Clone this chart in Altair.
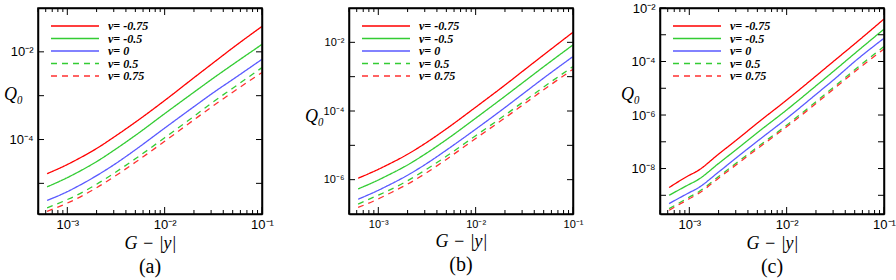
import altair as alt
import pandas as pd

# ---------------- data ----------------
X = [6.2e-4, 1.0e-3, 1.2e-3, 2.0e-3, 3.16e-3, 5.0e-3, 1.0e-2, 2.0e-2, 3.16e-2, 5.0e-2, 1.0e-1]

SERIES = ["ν= -0.75", "ν= -0.5", "ν= 0", "ν= 0.5", "ν= 0.75"]
COLORS = ["#ff0000", "#33cc33", "#5a5aff", "#33cc33", "#ff3030"]
DASHES = [[1, 0], [1, 0], [1, 0], [6, 5], [6, 5]]

# panel (a)
A_M075 = [1.66e-5, 2.69e-5, 3.31e-5, 6.24e-5, 1.22e-4, 2.48e-4, 7.76e-4, 2.57e-3, 5.62e-3, 1.23e-2, 3.80e-2]
A_M050 = [8.32e-6, 1.35e-5, 1.66e-5, 3.13e-5, 6.10e-5, 1.24e-4, 3.89e-4, 1.20e-3, 2.51e-3, 5.13e-3, 1.48e-2]
A_P000 = [4.07e-6, 6.46e-6, 7.94e-6, 1.50e-5, 2.85e-5, 5.82e-5, 1.82e-4, 5.62e-4, 1.17e-3, 2.34e-3, 6.76e-3]
A_P050 = [2.75e-6, 4.27e-6, 5.13e-6, 9.55e-6, 1.82e-5, 3.63e-5, 1.10e-4, 3.39e-4, 7.24e-4, 1.48e-3, 4.37e-3]
A_P075 = [2.29e-6, 3.55e-6, 4.27e-6, 7.94e-6, 1.51e-5, 3.02e-5, 9.12e-5, 2.82e-4, 5.89e-4, 1.20e-3, 3.39e-3]

# panel (b)
B_M075 = [1.10e-6, 2.00e-6, 2.57e-6, 5.50e-6, 1.23e-5, 3.02e-5, 1.29e-4, 5.69e-4, 1.57e-3, 4.32e-3, 1.97e-2]
B_M050 = [5.37e-7, 9.77e-7, 1.26e-6, 2.69e-6, 6.03e-6, 1.46e-5, 6.17e-5, 2.69e-4, 7.24e-4, 1.95e-3, 8.41e-3]
B_P000 = [2.69e-7, 4.90e-7, 6.31e-7, 1.35e-6, 2.99e-6, 7.24e-6, 2.95e-5, 1.26e-4, 3.39e-4, 9.12e-4, 3.85e-3]
B_P050 = [1.95e-7, 3.55e-7, 4.47e-7, 9.33e-7, 2.04e-6, 4.79e-6, 1.91e-5, 7.59e-5, 1.95e-4, 5.01e-4, 1.97e-3]
B_P075 = [1.55e-7, 2.75e-7, 3.55e-7, 7.41e-7, 1.62e-6, 3.89e-6, 1.58e-5, 6.31e-5, 1.62e-4, 4.17e-4, 1.64e-3]

# panel (c)
C_M075 = [1.95e-9, 5.62e-9, 7.94e-9, 3.47e-8, 1.29e-7, 5.01e-7, 3.63e-6, 2.88e-5, 1.15e-4, 4.57e-4, 3.89e-3]
C_M050 = [1.00e-9, 2.57e-9, 3.63e-9, 1.55e-8, 5.75e-8, 2.19e-7, 1.55e-6, 1.23e-5, 4.90e-5, 2.00e-4, 1.62e-3]
C_P000 = [4.90e-10, 1.26e-9, 1.78e-9, 7.41e-9, 2.82e-8, 1.05e-7, 7.41e-7, 5.89e-6, 2.34e-5, 1.00e-4, 7.41e-4]
C_P050 = [3.16e-10, 8.51e-10, 1.23e-9, 5.01e-9, 1.78e-8, 6.31e-8, 4.17e-7, 3.16e-6, 1.23e-5, 4.90e-5, 3.63e-4]
C_P075 = [2.75e-10, 7.41e-10, 1.07e-9, 4.37e-9, 1.55e-8, 5.50e-8, 3.63e-7, 2.69e-6, 1.05e-5, 4.17e-5, 2.95e-4]

# caption, series, y-domain, y decade ticks, Q0 title x / y offsets, tick label size
PANELS = [
    ("(a)", [A_M075, A_M050, A_P000, A_P050, A_P075], [2e-6, 1e-1],
     [1e-5, 1e-4, 1e-3, 1e-2], -25, 86, 13),
    ("(b)", [B_M075, B_M050, B_P000, B_P050, B_P075], [1e-7, 1e-1],
     [1e-6, 1e-5, 1e-4, 1e-3, 1e-2], -35, 108, 11),
    ("(c)", [C_M075, C_M050, C_P000, C_P050, C_P075], [2e-10, 1e-2],
     [1e-9, 1e-8, 1e-7, 1e-6, 1e-5, 1e-4, 1e-3, 1e-2], -30, 86, 13),
]

X_DOMAIN = [5e-4, 1e-1]
X_MAJOR = [1e-3, 1e-2, 1e-1]
X_MINOR = [5e-4, 6e-4, 7e-4, 8e-4, 9e-4,
           2e-3, 3e-3, 4e-3, 5e-3, 6e-3, 7e-3, 8e-3, 9e-3,
           2e-2, 3e-2, 4e-2, 5e-2, 6e-2, 7e-2, 8e-2, 9e-2]

SUP = "['⁰','⁻¹','⁻²','⁻³','⁻⁴','⁻⁵','⁻⁶','⁻⁷','⁻⁸','⁻⁹','⁻¹⁰']"
EXP = "round(log(datum.value)/LN10)"
X_LABEL = f"'10' + {SUP}[-{EXP}]"
Y_LABEL = f"({EXP} % 2 == 0) ? '10' + {SUP}[-{EXP}] : ''"

W, H = 224, 206
TICK_FONT = "Liberation Sans"
SERIF = "Liberation Serif"
INK = "#000000"
LEG_TOP, LEG_STEP = 18, 12.5


def panel(caption, series_vals, ydom, yticks, qx, qy, lsize):
    rows = []
    for name, vals in zip(SERIES, series_vals):
        for xv, qv in zip(X, vals):
            rows.append({"x": xv, "q": qv, "series": name})
    df = pd.DataFrame(rows)
    xmaj = pd.DataFrame({"x": X_MAJOR})
    xmin = pd.DataFrame({"x": X_MINOR})
    ymaj = pd.DataFrame({"q": yticks})
    one = pd.DataFrame({"k": [0]})

    xs = alt.Scale(type="log", domain=X_DOMAIN, nice=False)
    ys = alt.Scale(type="log", domain=ydom, nice=False)
    cs = alt.Scale(domain=SERIES, range=COLORS)
    ds = alt.Scale(domain=SERIES, range=DASHES)

    x_axis = alt.Axis(values=X_MAJOR, labelExpr=X_LABEL, grid=False, ticks=False,
                      domainColor=INK, domainWidth=1.5,
                      labelFont=TICK_FONT, labelFontSize=lsize, labelColor=INK,
                      labelPadding=4, labelFlush=False, labelOverlap=False,
                      title="G − |y|", titleFont=SERIF, titleFontStyle="italic",
                      titleFontWeight="normal", titleFontSize=18, titleColor=INK,
                      titlePadding=3)
    y_axis = alt.Axis(values=yticks, labelExpr=Y_LABEL, grid=False, ticks=False,
                      domainColor=INK, domainWidth=1.5,
                      labelFont=TICK_FONT, labelFontSize=lsize, labelColor=INK,
                      labelPadding=5, labelFlush=False, labelOverlap=False,
                      title="Q₀", titleFont=SERIF, titleFontStyle="italic",
                      titleFontWeight="normal", titleFontSize=18, titleColor=INK,
                      titleAngle=0, titleAlign="center", titleBaseline="middle",
                      titleX=qx, titleY=qy)

    lines = alt.Chart(df).mark_line(strokeWidth=1.3, clip=True, interpolate="monotone").encode(
        x=alt.X("x:Q", scale=xs, axis=x_axis),
        y=alt.Y("q:Q", scale=ys, axis=y_axis),
        color=alt.Color("series:N", scale=cs, legend=None),
        strokeDash=alt.StrokeDash("series:N", scale=ds, legend=None),
        detail="series:N",
    )

    # invisible copy carrying the top / right axis lines (box)
    mirror = alt.Chart(df).mark_line(strokeOpacity=0).encode(
        x=alt.X("x:Q", scale=xs,
                axis=alt.Axis(orient="top", values=X_MAJOR, labels=False, ticks=False,
                              grid=False, title=None, domainColor=INK, domainWidth=1.5)),
        y=alt.Y("q:Q", scale=ys,
                axis=alt.Axis(orient="right", values=yticks, labels=False, ticks=False,
                              grid=False, title=None, domainColor=INK, domainWidth=1.5)),
        detail="series:N",
    )

    X_NA = alt.X("x:Q", scale=xs, axis=None)
    Y_NA = alt.Y("q:Q", scale=ys, axis=None)

    # frame around the plot area
    frame = alt.Chart(one).mark_rect(filled=False, stroke=INK, strokeWidth=1.5).encode(
        x=alt.value(0), x2=alt.value(W), y=alt.value(0), y2=alt.value(H))

    # inward ticks on all four sides
    ts = dict(color=INK, strokeWidth=1)
    bx_maj = alt.Chart(xmaj).mark_rule(**ts).encode(x=X_NA, y=alt.value(H), y2=alt.value(H - 7))
    tx_maj = alt.Chart(xmaj).mark_rule(**ts).encode(x=X_NA, y=alt.value(0), y2=alt.value(7))
    bx_min = alt.Chart(xmin).mark_rule(**ts).encode(x=X_NA, y=alt.value(H), y2=alt.value(H - 4))
    tx_min = alt.Chart(xmin).mark_rule(**ts).encode(x=X_NA, y=alt.value(0), y2=alt.value(4))
    ly = alt.Chart(ymaj).mark_rule(**ts).encode(y=Y_NA, x=alt.value(0), x2=alt.value(6))
    ry = alt.Chart(ymaj).mark_rule(**ts).encode(y=Y_NA, x=alt.value(W), x2=alt.value(W - 6))

    # legend drawn inside the plot (top left)
    legend_layers = []
    for i, (name, col, dash) in enumerate(zip(SERIES, COLORS, DASHES)):
        yy = LEG_TOP + LEG_STEP * i
        legend_layers.append(
            alt.Chart(one).mark_rule(strokeWidth=1.3, color=col, strokeDash=dash).encode(
                x=alt.value(13), x2=alt.value(61), y=alt.value(yy)))
        legend_layers.append(
            alt.Chart(one).mark_text(align="left", baseline="middle", font=SERIF,
                                     fontStyle="italic", fontWeight="bold", fontSize=12,
                                     color=INK, text=name).encode(
                x=alt.value(70), y=alt.value(yy)))

    return alt.layer(lines, mirror, frame, bx_maj, tx_maj, bx_min, tx_min, ly, ry,
                     *legend_layers).resolve_axis(x="independent", y="independent").properties(
        width=W, height=H,
        title=alt.TitleParams(caption, orient="bottom", font=SERIF, fontSize=20,
                              fontWeight="normal", color=INK, offset=5),
    )


chart = alt.hconcat(*[panel(*p) for p in PANELS], spacing=87, bounds="flush").properties(
    padding={"left": 2, "top": 1, "right": 0, "bottom": 0},
).configure(background="white")

chart.save("out.html", embed_options={"renderer": "svg", "actions": False})
